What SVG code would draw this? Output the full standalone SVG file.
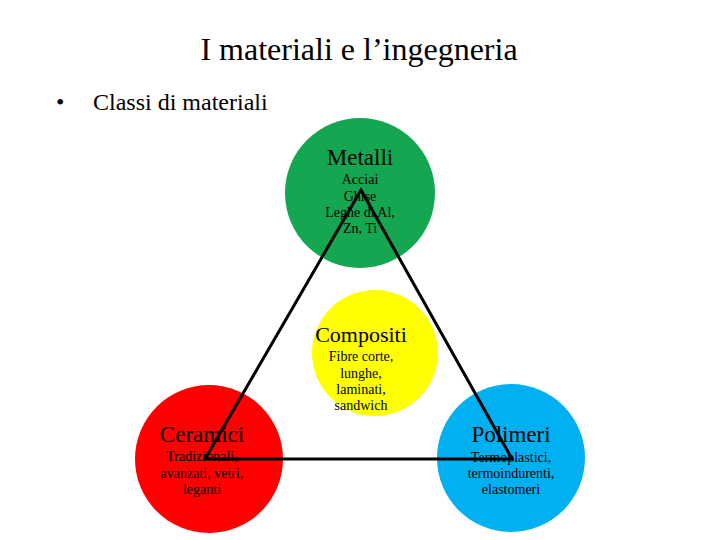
<svg xmlns="http://www.w3.org/2000/svg" width="720" height="540" viewBox="0 0 720 540">
<style>
text{font-family:"Liberation Serif","Times New Roman",serif;fill:#000;text-anchor:middle}
.title{font-size:32px}
.bul{font-size:24px;text-anchor:start}
.h{font-size:23px}
.s{font-size:14px}
.conn{fill:none;stroke:#000;stroke-width:3;stroke-linejoin:miter}
</style>
<rect width="720" height="540" fill="#fff"/>
<text class="title" x="359" y="60">I materiali e l’ingegneria</text>
<text class="bul" x="56" y="110">•</text>
<text class="bul" x="93" y="110">Classi di materiali</text>
<g id="metalli">
<circle cx="360" cy="193" r="75" fill="#14A650"/>
<text class="h" x="360" y="165">Metalli</text>
<text class="s" x="360" y="184">Acciai</text>
<text class="s" x="360" y="201">Ghise</text>
<text class="s" x="360" y="217">Leghe di Al,</text>
<text class="s" x="360" y="233">Zn, Ti</text>
</g>
<g id="compositi">
<circle cx="375" cy="353" r="63" fill="#FFFF00"/>
<text class="h" x="361" y="342" style="font-size:22px">Compositi</text>
<text class="s" x="361" y="361">Fibre corte,</text>
<text class="s" x="361" y="378">lunghe,</text>
<text class="s" x="361" y="394">laminati,</text>
<text class="s" x="361" y="410">sandwich</text>
</g>
<g id="ceramici">
<circle cx="209" cy="459" r="74" fill="#FF0000"/>
<text class="h" x="202" y="442">Ceramici</text>
<text class="s" x="202" y="461">Tradizionali,</text>
<text class="s" x="202" y="478">avanzati, vetri,</text>
<text class="s" x="202" y="494">leganti</text>
</g>
<g id="polimeri">
<circle cx="511" cy="458" r="74" fill="#00B0F0"/>
<text class="h" x="511" y="442">Polimeri</text>
<text class="s" x="511" y="462">Termoplastici,</text>
<text class="s" x="511" y="478">termoindurenti,</text>
<text class="s" x="511" y="494">elastomeri</text>
</g>
<g id="connectors">
<polygon class="conn" points="361,190 205,459 512,459"/>
</g>
</svg>
